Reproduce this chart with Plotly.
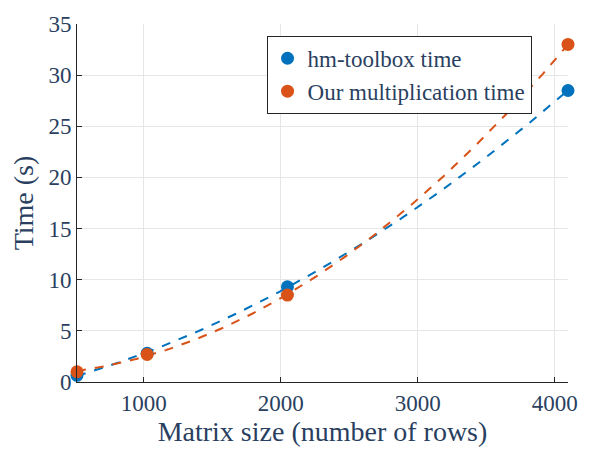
import numpy as np
import plotly.graph_objects as go

# Matrix sizes (rows) and measured times in seconds
sizes = [512, 1024, 2048, 4096]
hm_toolbox_time = [0.65, 2.8, 9.3, 28.5]
our_time = [1.0, 2.7, 8.5, 33.0]

x_ticks = [1000, 2000, 3000, 4000]
y_ticks = [0, 5, 10, 15, 20, 25, 30, 35]

blue = "#0072BD"
orange = "#D95319"

# Quadratic least-squares trend for each series
xs = np.linspace(sizes[0], sizes[-1], 200)
fit_hm = np.polyval(np.polyfit(sizes, hm_toolbox_time, 2), xs)
fit_our = np.polyval(np.polyfit(sizes, our_time, 2), xs)

fig = go.Figure()
fig.add_trace(go.Scatter(x=xs, y=fit_hm, mode="lines", showlegend=False,
                         line=dict(color=blue, width=2, dash="dash")))
fig.add_trace(go.Scatter(x=xs, y=fit_our, mode="lines", showlegend=False,
                         line=dict(color=orange, width=2, dash="dash")))
fig.add_trace(go.Scatter(x=sizes, y=hm_toolbox_time, mode="markers", name="hm-toolbox time",
                         marker=dict(color=blue, size=13), cliponaxis=False))
fig.add_trace(go.Scatter(x=sizes, y=our_time, mode="markers", name="Our multiplication time",
                         marker=dict(color=orange, size=13), cliponaxis=False))

fig.update_layout(
    width=590, height=463,
    margin=dict(l=77, r=15, t=13, b=81),
    paper_bgcolor="white", plot_bgcolor="white",
    font=dict(family="Liberation Serif", size=23),
    legend=dict(x=0.386, y=0.967, xanchor="left", yanchor="top",
                bordercolor="#262626", borderwidth=1, bgcolor="white",
                tracegroupgap=0),
    xaxis=dict(range=[512, 4096], tickvals=x_ticks, ticks="inside", ticklen=5,
               tickcolor="#262626", showline=True, linecolor="#262626", linewidth=1,
               showgrid=True, gridcolor="#E6E6E6", zeroline=False,
               title=dict(text="Matrix size (number of rows)", standoff=6)),
    yaxis=dict(range=[0, 35], tickvals=y_ticks, ticks="inside", ticklen=5,
               tickcolor="#262626", showline=True, linecolor="#262626", linewidth=1,
               showgrid=True, gridcolor="#E6E6E6", zeroline=False,
               title=dict(text="Time (s)", standoff=6)),
)

fig.write_html("out.html")
